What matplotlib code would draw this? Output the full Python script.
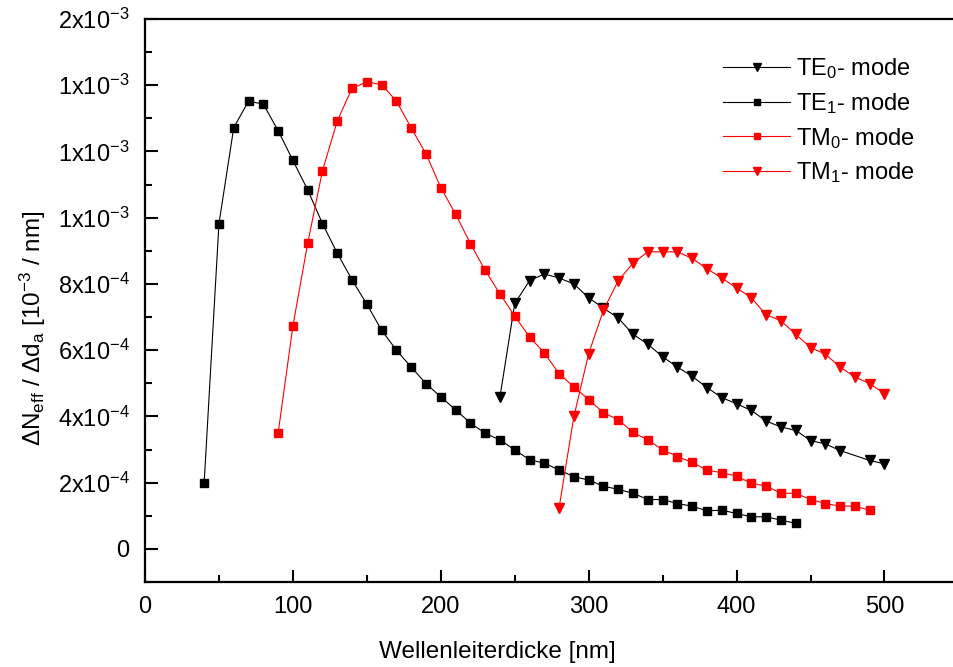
import numpy as np
import matplotlib
matplotlib.use("Agg")
import matplotlib.pyplot as plt
from matplotlib.ticker import FixedLocator, FixedFormatter, MultipleLocator

plt.rcParams['font.family'] = ['Liberation Sans', 'DejaVu Sans']
plt.rcParams['mathtext.fontset'] = 'custom'
plt.rcParams['mathtext.rm'] = 'Liberation Sans'
plt.rcParams['mathtext.it'] = 'Liberation Sans:italic'

# dN_eff/dd_a in units of 1e-4 per nm, thickness in nm
te1_x = list(range(40, 450, 10))
te1_y = [2.0, 9.82, 12.72, 13.52, 13.43, 12.63, 11.73, 10.84, 9.82, 8.93,
         8.12, 7.39, 6.60, 6.0, 5.49, 4.99, 4.59, 4.20, 3.80, 3.49,
         3.29, 2.99, 2.69, 2.59, 2.38, 2.18, 2.08, 1.89, 1.80, 1.68,
         1.49, 1.49, 1.37, 1.29, 1.15, 1.17, 1.07, 0.97, 0.97, 0.87, 0.77]

tm0_x = list(range(90, 500, 10))
tm0_y = [3.49, 6.73, 9.23, 11.42, 12.92, 13.91, 14.10, 14.02, 13.52, 12.71,
         11.93, 10.91, 10.11, 9.22, 8.41, 7.70, 7.03, 6.40, 5.92, 5.29,
         4.89, 4.51, 4.11, 3.90, 3.52, 3.29, 2.99, 2.79, 2.61, 2.38,
         2.30, 2.20, 1.98, 1.90, 1.68, 1.68, 1.49, 1.37, 1.29, 1.29, 1.17]

te0_x = [240, 250, 260, 270, 280, 290, 300, 310, 320, 330, 340, 350, 360,
         370, 380, 390, 400, 410, 420, 430, 440, 450, 460, 470, 490, 500]
te0_y = [4.59, 7.41, 8.10, 8.30, 8.18, 8.0, 7.58, 7.27, 6.97, 6.48, 6.18,
         5.80, 5.49, 5.21, 4.87, 4.57, 4.38, 4.18, 3.86, 3.68, 3.58, 3.27,
         3.17, 2.97, 2.67, 2.57]

tm1_x = list(range(280, 510, 10))
tm1_y = [1.25, 4.0, 5.90, 7.21, 8.10, 8.63, 8.97, 8.97, 8.97, 8.77, 8.46,
         8.18, 7.88, 7.58, 7.07, 6.89, 6.48, 6.08, 5.88, 5.49, 5.19, 4.99, 4.69]

ytick_vals = [0, 2e-4, 4e-4, 6e-4, 8e-4, 1.0e-3, 1.2e-3, 1.4e-3, 1.6e-3]
ytick_labels = ['0', '2x10$^{-4}$', '4x10$^{-4}$', '6x10$^{-4}$', '8x10$^{-4}$',
                '1x10$^{-3}$', '1x10$^{-3}$', '1x10$^{-3}$', '2x10$^{-3}$']

fig = plt.figure(figsize=(9.54, 6.67), dpi=100)
ax = fig.add_axes([0.152, 0.1274, 0.848, 0.8441])

scale = 1e-4
ax.plot(te0_x, np.array(te0_y) * scale, color='black', marker='v', ms=6.5,
        lw=0.8, label='TE$_0$- mode')
ax.plot(te1_x, np.array(te1_y) * scale, color='black', marker='s', ms=5.5,
        lw=0.8, label='TE$_1$- mode')
ax.plot(tm0_x, np.array(tm0_y) * scale, color='red', marker='s', ms=5.5,
        lw=0.8, label='TM$_0$- mode')
ax.plot(tm1_x, np.array(tm1_y) * scale, color='red', marker='v', ms=6.5,
        lw=0.8, label='TM$_1$- mode')

ax.set_xlim(0, 547)
ax.set_ylim(-1e-4, 1.6e-3)

ax.xaxis.set_major_locator(MultipleLocator(100))
ax.xaxis.set_minor_locator(MultipleLocator(50))
ax.yaxis.set_major_locator(FixedLocator(ytick_vals))
ax.yaxis.set_major_formatter(FixedFormatter(ytick_labels))
ax.yaxis.set_minor_locator(MultipleLocator(1e-4))

ax.spines['right'].set_visible(False)
for s in ['left', 'bottom', 'top']:
    ax.spines[s].set_linewidth(1.6)

ax.tick_params(which='both', direction='in', width=1.5, labelsize=17)
ax.tick_params(which='major', length=9)
ax.tick_params(which='minor', length=5)
ax.tick_params(axis='x', pad=10)
ax.tick_params(axis='y', pad=11)
ax.tick_params(top=False, right=False, which='both')

ax.set_xlabel('Wellenleiterdicke [nm]', fontsize=17.5)
ax.xaxis.set_label_coords(0.436, -0.105)
ax.set_ylabel('ΔN$_{\\mathrm{eff}}$ / Δd$_{\\mathrm{a}}$ [10$^{-3}$ / nm]',
              fontsize=17.5)
ax.yaxis.set_label_coords(-0.12, 0.45)

leg = ax.legend(loc='upper left', bbox_to_anchor=(723 / 954, 1 - 56 / 667),
                bbox_transform=fig.transFigure, frameon=False, fontsize=17,
                handlelength=2.85, handletextpad=0.25, labelspacing=0.42,
                borderpad=0, borderaxespad=0, markerscale=0.85)

fig.savefig('out.png', dpi=100)
